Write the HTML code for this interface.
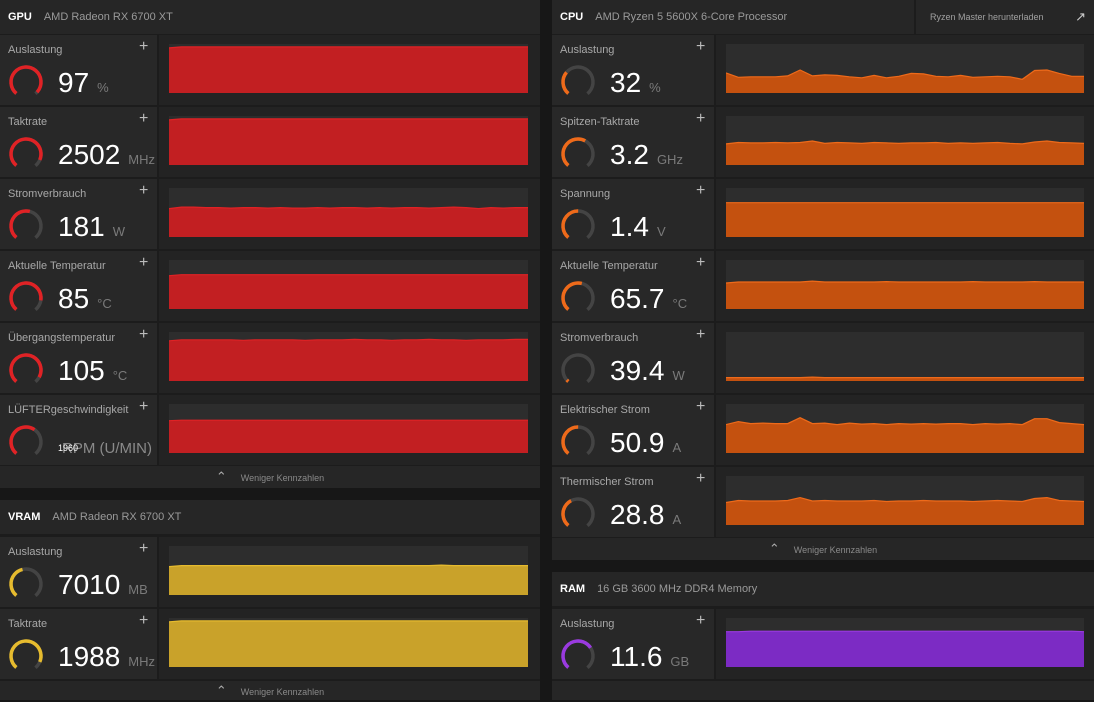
<!DOCTYPE html>
<html><head><meta charset="utf-8">
<style>
body{margin:0;width:1094px;height:700px;background:#171717;overflow:hidden;font-family:"Liberation Sans",sans-serif;position:relative}
.abs{position:absolute}
.hdr{background:#262626;color:#9a9a9a;font-size:11px;line-height:34px;height:34px}
.hdr b{color:#fff;font-weight:bold;margin:0 12px 0 8px}
.lc{background:#282828;overflow:hidden}
.rc{background:#232323}
.lbl{color:#a8a8a8;font-size:11px}
.plus{color:#bbb;font-size:16px;line-height:16px}
.val{color:#fff;font-size:28px;line-height:32px;white-space:nowrap}
.unit{color:#7a7a7a;font-size:13px}
.foot{background:#262626;color:#8a8a8a;font-size:9px;text-align:center}
</style></head><body>
<div id="root"></div>
<script>
// chart data: values in % of chart height
const gpuLoad=[92,94,94,94,94,94,94,94,94,94,94,94,94,94,94,94,94,94,94,94,94,94,94,94,94,94,94,94,94,94];
const gpuClock=[92,94,94,94,94,94,94,94,94,94,94,94,94,94,94,94,94,94,94,94,94,94,94,94,94,94,94,94,94,94];
const gpuPower=[58,61,61,60,60,59,60,60,59,60,59,59,60,59,60,60,59,60,59,60,60,59,60,61,60,58,60,59,60,60];
const gpuTemp=[68,70,70,70,70,70,70,70,70,70,70,70,70,70,70,70,70,70,70,70,70,70,70,70,70,70,70,70,70,70];
const gpuJunc=[82,84,84,84,84,84,83,84,84,84,84,83,84,84,84,85,84,84,83,84,84,85,84,84,83,84,84,84,85,85];
const gpuFan=[66,67,67,67,67,67,67,67,67,67,67,67,67,67,67,67,67,67,67,67,67,67,67,67,67,67,67,67,67,67];
const cpuLoad=[41,32,33,33,33,35,47,35,37,36,33,31,36,31,34,40,39,34,33,36,32,33,34,33,28,46,47,40,34,34];
const cpuPeak=[43,46,45,45,46,45,46,49,44,46,45,44,46,45,44,45,45,46,44,45,44,45,46,44,43,47,49,46,45,44];
const cpuVolt=[70,70,70,70,70,70,70,70,70,70,70,70,70,70,70,70,70,70,70,70,70,70,70,70,70,70,70,70,70,70];
const cpuTemp=[53,55,55,55,55,55,55,57,55,55,55,55,55,56,55,55,55,55,55,55,56,55,55,55,55,56,55,55,55,55];
const cpuPower=[7,7,7,7,7,7,7,8,7,7,7,7,7,7,7,7,7,7,7,7,7,7,7,7,7,7,7,7,7,7];
const cpuAmp=[58,64,60,61,60,60,72,60,61,58,61,59,60,58,60,59,60,59,60,60,58,60,59,60,58,70,70,62,60,58];
const cpuTherm=[46,50,49,49,49,50,56,49,50,49,49,49,50,48,49,49,50,49,49,49,48,49,50,49,48,54,56,50,49,48];
const vramLoad=[58,60,60,60,60,60,60,60,60,60,60,60,60,60,60,60,60,60,60,60,60,60,61,60,60,60,60,60,60,60];
const vramClock=[92,94,94,94,94,94,94,94,94,94,94,94,94,94,94,94,94,94,94,94,94,94,94,94,94,94,94,94,94,94];
const ramLoad=[72,72,73,73,73,73,73,73,73,73,73,73,73,73,73,73,73,73,73,73,73,73,73,73,73,73,73,73,73,72];

const R=document.getElementById('root');
function box(x,y,w,h,cls,html){const d=document.createElement('div');d.className='abs '+(cls||'');d.style.cssText=`left:${x}px;top:${y}px;width:${w}px;height:${h}px`;if(html!==undefined)d.innerHTML=html;R.appendChild(d);return d;}
function header(x,y,w,t,s,name){const d=box(x,y,w,34,'hdr','<b>'+t+'</b>'+s);

return d;}
function footer(x,y,w,h,name){const d=box(x,y,w,h,'foot','<span style="font-size:13px;color:#aaa;margin-right:14px">&#8963;</span>Weniger Kennzahlen');d.style.lineHeight=h+'px';

}
function row(px,y,lw,cx,cw,label,val,unit,color,fill,line,g,data,name){
 const l=box(px,y,lw,70,'lc');
 
 
 l.innerHTML=`<div class="abs lbl" style="left:8px;top:9px">${label}</div><div class="abs plus" style="left:${lw-18}px;top:4px">+</div>
 <svg class="abs" style="left:7px;top:28px" width="38" height="38"><circle cx="19" cy="19" r="15" fill="none" stroke="#444" stroke-width="3.5" stroke-dasharray="${2*Math.PI*15*0.78} 999" transform="rotate(130 19 19)"/><circle cx="19" cy="19" r="15" fill="none" stroke="${line}" stroke-width="3.5" stroke-dasharray="${2*Math.PI*15*0.78*g} 999" transform="rotate(130 19 19)"/></svg>
 <div class="abs val" style="left:58px;top:32px">${val}<span class="unit" style="margin-left:8px">${unit}</span></div>`;
 const r=box(px+lw+2,y,px+lw+2<552?540-(px+lw+2):1094-(px+lw+2),70,'rc');
 
 
 const W=cw,H=49;
 const xs=i=>i*W/(data.length-1), ys=v=>H-v/100*H;
 let p=data.map((v,i)=>`${xs(i).toFixed(1)},${ys(v).toFixed(1)}`).join(' L');
 const svg=`<svg class="abs" style="left:${cx-(px+lw+2)}px;top:9px" width="${W}" height="${H}"><rect width="${W}" height="${H}" fill="#2d2d2d"/><path d="M0,${H} L${p} L${W},${H}Z" fill="${fill}"/><path d="M${p}" fill="none" stroke="${line}" stroke-width="1.2"/></svg>`;
 r.innerHTML=svg;
 
 
}
// GPU panel
box(0,0,540,488,'').style.background='#1c1c1c';
header(0,0,540,'GPU','AMD Radeon RX 6700 XT','gpu-header');
const RED='#c21f22',REDL='#e02225',OR='#c4510f',ORL='#ee6a1a';
const gy=[35,107,179,251,323,395];
const gpuRows=[['Auslastung','97','%',0.97,gpuLoad],['Taktrate','2502','MHz',0.9,gpuClock],['Stromverbrauch','181','W',0.55,gpuPower],['Aktuelle Temperatur','85','°C',0.85,gpuTemp],['Übergangstemperatur','105','°C',0.92,gpuJunc],['LÜFTERgeschwindigkeit','<span style="font-size:9px;color:#fff;position:absolute;left:0;top:-1px">1960</span><span style="margin-left:4px">RPM (U/MIN)</span>','',0.62,gpuFan]];
gpuRows.forEach((r,i)=>row(0,gy[i],157,169,359,r[0],r[1],r[2],RED,RED,REDL,r[3],r[4],'gpu-'+i));
document.querySelectorAll('.val').forEach(v=>{if(v.innerHTML.includes('RPM')){v.style.fontSize='15px';v.style.color='#8a8a8a';v.style.top='38px';v.style.left='58px'}});
footer(0,466,540,22,'gpu-less-metrics');
// VRAM
box(0,500,540,200,'').style.background='#1c1c1c';
header(0,500,540,'VRAM','AMD Radeon RX 6700 XT','vram-header');
const YEL='#c9a22a',YELL='#e6bb2e';
row(0,537,157,169,359,'Auslastung','7010','MB',YEL,YEL,YELL,0.45,vramLoad,'vram-0');
row(0,609,157,169,359,'Taktrate','1988','MHz',YEL,YEL,YELL,0.9,vramClock,'vram-1');
footer(0,681,540,19,'vram-less-metrics');
// CPU
box(552,0,542,560,'').style.background='#1c1c1c';
header(552,0,362,'CPU','AMD Ryzen 5 5600X 6-Core Processor','cpu-header');
const dl=box(916,0,178,34,'hdr','<span style="margin-left:14px;font-size:9px;color:#a0a0a0">Ryzen Master herunterladen</span><span style="position:absolute;right:8px;color:#ccc;font-size:13px">&#8599;</span>');


const cpuRows=[['Auslastung','32','%',0.32,cpuLoad],['Spitzen-Taktrate','3.2','GHz',0.6,cpuPeak],['Spannung','1.4','V',0.5,cpuVolt],['Aktuelle Temperatur','65.7','°C',0.55,cpuTemp],['Stromverbrauch','39.4','W',0.03,cpuPower],['Elektrischer Strom','50.9','A',0.5,cpuAmp],['Thermischer Strom','28.8','A',0.4,cpuTherm]];
cpuRows.forEach((r,i)=>row(552,35+72*i,162,726,358,r[0],r[1],r[2],OR,OR,ORL,r[3],r[4],'cpu-'+i));
footer(552,538,542,22,'cpu-less-metrics');
// RAM
box(552,572,542,128,'').style.background='#1c1c1c';
header(552,572,542,'RAM','16 GB 3600 MHz DDR4 Memory','ram-header');
const PU='#7c2bc4',PUL='#9a3ae0';
row(552,609,162,726,358,'Auslastung','11.6','GB',PU,PU,PUL,0.7,ramLoad,'ram-0');
box(552,681,542,19,'').style.background='#262626';
</script>
</body></html>
